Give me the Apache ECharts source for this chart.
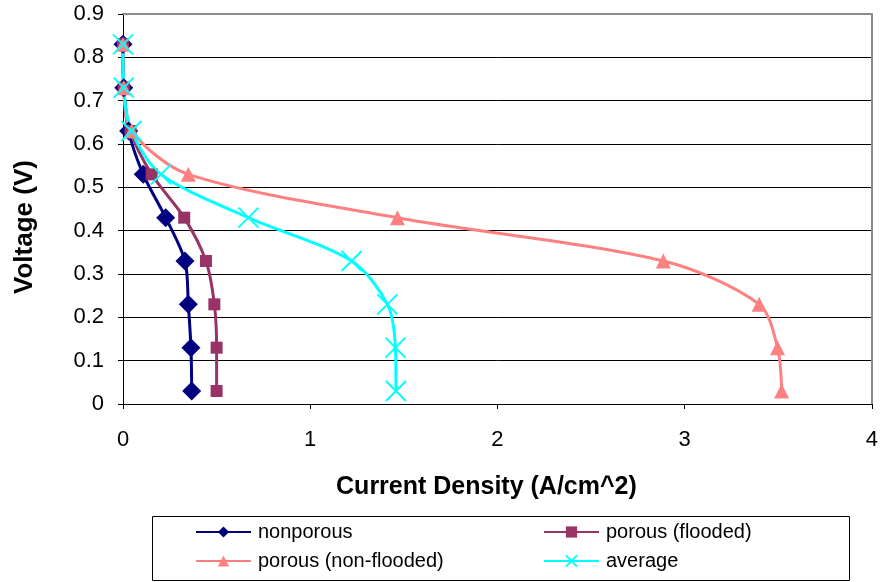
<!DOCTYPE html>
<html>
<head>
<meta charset="utf-8">
<script src="https://cdn.jsdelivr.net/npm/echarts@6/dist/echarts.min.js"></script>
<style>
  html, body { margin: 0; padding: 0; background: #fff; }
  #chart { width: 881px; height: 582px; }
</style>
</head>
<body>
<div id="chart"></div>
<script>
// Polarization curves: voltage steps and current density for each electrode type
var voltage = [0.83, 0.73, 0.63, 0.53, 0.43, 0.33, 0.23, 0.13, 0.03];
var nonporous = [0.0, 0.004, 0.03, 0.108, 0.228, 0.331, 0.349, 0.363, 0.367];
var porousFlooded = [0.0, 0.004, 0.04, 0.153, 0.327, 0.443, 0.488, 0.5, 0.5];
var porousNonFlooded = [0.0, 0.004, 0.046, 0.349, 1.466, 2.886, 3.398, 3.496, 3.518];
var average = [0.0, 0.004, 0.045, 0.203, 0.67, 1.221, 1.412, 1.455, 1.458];

var seriesNames = ['nonporous', 'porous (flooded)', 'porous (non-flooded)', 'average'];
var xTicks = [0, 1, 2, 3, 4];

var FONT = '"Liberation Sans", Arial, sans-serif';

function pairs(xs) {
  return xs.map(function (x, i) { return [x, voltage[i]]; });
}

var crossPath = 'path://M0,0L10,10M10,0L0,10';

var legendCommon = {
  top: 522,
  orient: 'vertical',
  itemGap: 9,
  itemWidth: 55,
  itemHeight: 14,
  align: 'left',
  padding: 0,
  textStyle: { fontFamily: FONT, fontSize: 20, lineHeight: 20, color: '#000', padding: [0, 0, 0, 2] }
};

var chart = echarts.init(document.getElementById('chart'), null, { renderer: 'canvas' });

chart.setOption({
  animation: false,
  backgroundColor: '#fff',
  textStyle: { fontFamily: FONT },
  grid: { left: 123, right: 9, top: 14, bottom: 178 },
  xAxis: [{
    type: 'value',
    min: xTicks[0],
    max: xTicks[xTicks.length - 1],
    interval: 1,
    name: 'Current Density (A/cm^2)',
    nameLocation: 'middle',
    nameGap: 71,
    nameTextStyle: { fontFamily: FONT, fontSize: 25, fontWeight: 'bold', color: '#000', padding: [0, 22, 0, 0] },
    axisLine: { show: true, lineStyle: { color: '#000', width: 1 } },
    axisTick: { show: true, inside: false, length: 5, lineStyle: { color: '#000' } },
    axisLabel: { fontFamily: FONT, fontSize: 22, color: '#000', margin: 25 },
    splitLine: { show: false }
  }, {
    type: 'value',
    position: 'top',
    min: xTicks[0],
    max: xTicks[xTicks.length - 1],
    interval: 1,
    axisLine: { show: true, onZero: false, lineStyle: { color: '#8c8c8c', width: 2 } },
    axisTick: { show: false },
    axisLabel: { show: false },
    splitLine: { show: false }
  }],
  yAxis: [{
    type: 'value',
    min: 0,
    max: 0.9,
    interval: 0.1,
    name: 'Voltage (V)',
    nameLocation: 'middle',
    nameGap: 85,
    nameRotate: 90,
    nameTextStyle: { fontFamily: FONT, fontSize: 26, fontWeight: 'bold', color: '#000', padding: [0, 36, 0, 0] },
    axisLine: { show: true, lineStyle: { color: '#000', width: 1 } },
    axisTick: { show: true, inside: false, length: 5, lineStyle: { color: '#000' } },
    axisLabel: {
      fontFamily: FONT, fontSize: 22, color: '#000', margin: 19,
      formatter: function (v) { return String(Math.round(v * 10) / 10); }
    },
    splitLine: { show: true, lineStyle: { color: '#000', width: 1 } }
  }, {
    type: 'value',
    position: 'right',
    min: 0,
    max: 0.9,
    interval: 0.1,
    axisLine: { show: true, onZero: false, lineStyle: { color: '#8c8c8c', width: 2 } },
    axisTick: { show: false },
    axisLabel: { show: false },
    splitLine: { show: false }
  }],
  // legend frame
  graphic: [{
    type: 'rect',
    left: 152,
    top: 516,
    shape: { width: 697, height: 64 },
    style: { fill: '#fff', stroke: '#000', lineWidth: 1 },
    z: -1
  }],
  legend: [
    Object.assign({}, legendCommon, { left: 195, data: [seriesNames[0], seriesNames[2]] }),
    Object.assign({}, legendCommon, { left: 543, data: [seriesNames[1], seriesNames[3]] })
  ],
  series: [{
    name: seriesNames[0],
    type: 'line',
    data: pairs(nonporous),
    smooth: 0.3,
    symbol: 'diamond',
    symbolSize: 19,
    color: '#000080',
    lineStyle: { color: '#000080', width: 3 },
    itemStyle: { color: '#000080' }
  }, {
    name: seriesNames[1],
    type: 'line',
    data: pairs(porousFlooded),
    smooth: 0.3,
    symbol: 'rect',
    symbolSize: 12,
    color: '#993366',
    lineStyle: { color: '#993366', width: 3 },
    itemStyle: { color: '#993366' }
  }, {
    name: seriesNames[2],
    type: 'line',
    data: pairs(porousNonFlooded),
    smooth: 0.3,
    symbol: 'triangle',
    symbolSize: 15,
    color: '#FF8080',
    lineStyle: { color: '#FF8080', width: 3 },
    itemStyle: { color: '#FF8080' }
  }, {
    name: seriesNames[3],
    type: 'line',
    data: pairs(average),
    smooth: 0.3,
    symbol: crossPath,
    symbolSize: 20,
    color: '#00FFFF',
    lineStyle: { color: '#00FFFF', width: 3 },
    itemStyle: { color: '#00FFFF', borderColor: '#00FFFF', borderWidth: 2 }
  }]
});
</script>
</body>
</html>
